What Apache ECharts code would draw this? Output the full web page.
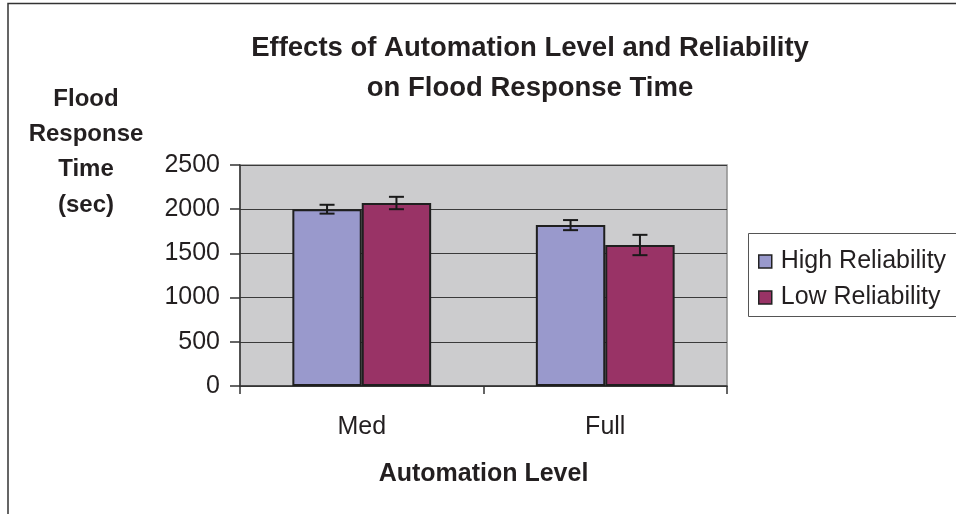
<!DOCTYPE html>
<html>
<head>
<meta charset="utf-8">
<script src="https://cdn.jsdelivr.net/npm/echarts@6/dist/echarts.min.js"></script>
<style>
html,body{margin:0;padding:0;background:#fff;}
#chart{width:956px;height:514px;}
</style>
</head>
<body>
<div id="chart"></div>
<script>
var categories = ['Med', 'Full'];
var seriesNames = ['High Reliability', 'Low Reliability'];
var highValues = [2000, 1820];
var lowValues = [2070, 1595];
var highErrors = [50, 57];
var lowErrors = [70, 115];
var yTicks = [0, 500, 1000, 1500, 2000, 2500];

var FONT = '"Liberation Sans", Arial, sans-serif';
var TXT = '#231f20';
var GAP = 0.43;

function errorSeries(values, errors, sideIndex) {
  var data = values.map(function (v, i) { return [i, v, errors[i]]; });
  return {
    type: 'custom',
    z: 10,
    silent: true,
    data: data,
    renderItem: function (params, api) {
      var ci = api.value(0), v = api.value(1), e = api.value(2);
      var band = api.size([1, 0])[0];
      var barW = band * (1 - GAP) / 2;
      var center = api.coord([ci, v]);
      var x = center[0] + (sideIndex === 0 ? -barW / 2 : barW / 2);
      var top = api.coord([ci, v + e])[1];
      var bot = api.coord([ci, v - e])[1];
      var cap = 7.5;
      var st = { stroke: '#1a1a1a', lineWidth: 2 };
      return {
        type: 'group',
        children: [
          { type: 'line', shape: { x1: x, y1: top, x2: x, y2: bot }, style: st },
          { type: 'line', shape: { x1: x - cap, y1: top, x2: x + cap, y2: top }, style: st },
          { type: 'line', shape: { x1: x - cap, y1: bot, x2: x + cap, y2: bot }, style: st }
        ]
      };
    }
  };
}

var chart = echarts.init(document.getElementById('chart'), null, { renderer: 'canvas' });
chart.setOption({
  animation: false,
  backgroundColor: '#fff',
  title: {
    text: 'Effects of Automation Level and Reliability\non Flood Response Time',
    left: 525, top: 23.5, textAlign: 'center',
    textStyle: { fontFamily: FONT, fontWeight: 'bold', fontSize: 27.5, lineHeight: 40, color: TXT }
  },
  legend: {
    orient: 'vertical',
    left: 753, top: 244,
    itemWidth: 13, itemHeight: 13, itemGap: 11,
    icon: 'rect',
    textStyle: { fontFamily: FONT, fontSize: 25, lineHeight: 25, color: TXT, padding: [0, 0, 0, 4] },
    data: seriesNames.map(function (n) { return { name: n, itemStyle: { borderColor: '#222', borderWidth: 1.5 } }; })
  },
  grid: {
    left: 240, right: 229, top: 165, bottom: 128,
    show: true, backgroundColor: '#CCCCCE', borderColor: '#8e8e8e', borderWidth: 1.5
  },
  xAxis: {
    type: 'category',
    data: categories,
    name: 'Automation Level',
    nameLocation: 'middle',
    nameGap: 76,
    nameTextStyle: { fontFamily: FONT, fontWeight: 'bold', fontSize: 25, color: TXT },
    axisLine: { lineStyle: { color: '#333', width: 1.5 } },
    axisTick: { show: true, length: 8, lineStyle: { color: '#333', width: 1.5 } },
    axisLabel: { fontFamily: FONT, fontSize: 25, color: TXT, margin: 29 }
  },
  yAxis: {
    type: 'value',
    min: yTicks[0], max: yTicks[yTicks.length - 1], interval: 500,
    axisLine: { show: true, lineStyle: { color: '#333', width: 1.5 } },
    axisTick: { show: true, length: 10, inside: false, lineStyle: { color: '#333', width: 1.5 } },
    axisLabel: { fontFamily: FONT, fontSize: 25, color: TXT, margin: 20, formatter: function (v) { return String(v); } },
    splitLine: { lineStyle: { color: '#3a3a3a', width: 1.2 } }
  },
  graphic: [
    { type: 'polyline', shape: { points: [[8, 514], [8, 3.5], [956, 3.5]] }, style: { stroke: '#333', lineWidth: 1.5, fill: null } },
    { type: 'rect', shape: { x: 748.5, y: 233.5, width: 230, height: 83 }, style: { stroke: '#555', lineWidth: 1, fill: null }, z: -1 },
    {
      type: 'text', x: 86, y: 152,
      style: {
        text: 'Flood\nResponse\nTime\n(sec)',
        font: 'bold 24px ' + FONT, fill: TXT, align: 'center', verticalAlign: 'middle', lineHeight: 35.3
      }
    }
  ],
  series: [
    {
      name: seriesNames[0], type: 'bar', data: highValues,
      barGap: '0%', barCategoryGap: (GAP * 100) + '%',
      itemStyle: { color: '#9999CC', borderColor: '#1f1f1f', borderWidth: 2 }
    },
    {
      name: seriesNames[1], type: 'bar', data: lowValues,
      barGap: '0%', barCategoryGap: (GAP * 100) + '%',
      itemStyle: { color: '#993366', borderColor: '#1f1f1f', borderWidth: 2 }
    },
    errorSeries(highValues, highErrors, 0),
    errorSeries(lowValues, lowErrors, 1)
  ]
});
</script>
</body>
</html>
